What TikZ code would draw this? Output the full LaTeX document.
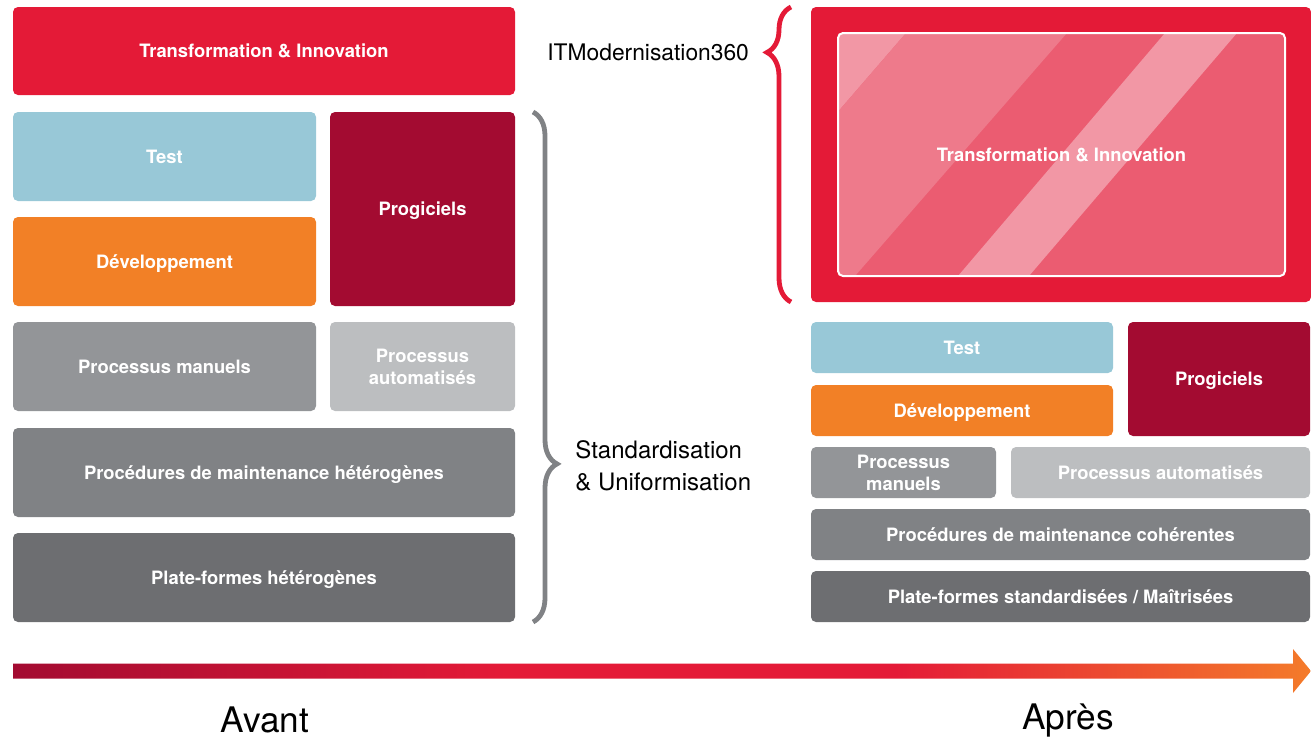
\documentclass[tikz,border=0pt]{standalone}
\usepackage{fontspec}
\setmainfont{TeX Gyre Heros}
\usepackage{tikz}
\usetikzlibrary{decorations.pathreplacing}

\definecolor{itred}{HTML}{E41A37}
\definecolor{itwine}{HTML}{A30B31}
\definecolor{itblue}{HTML}{98C8D7}
\definecolor{itorange}{HTML}{F28026}
\definecolor{itgrey}{HTML}{939598}
\definecolor{itlight}{HTML}{BCBEC0}
\definecolor{itmid}{HTML}{808285}
\definecolor{itdark}{HTML}{6D6E71}
\definecolor{itpink}{HTML}{EB5C71}
\definecolor{itrose}{HTML}{EE7A8B}
\definecolor{itpale}{HTML}{F297A5}
\definecolor{itarrow}{HTML}{F47B2A}

\pgfdeclarehorizontalshading{timeline}{100bp}{color(0bp)=(itwine); color(25bp)=(itwine); color(44bp)=(itred); color(59bp)=(itred); color(75bp)=(itarrow); color(100bp)=(itarrow)}

\newcommand{\lblfont}{\bfseries\fontsize{9.2}{11}\selectfont}
\newcommand{\sidefont}{\fontsize{11.4}{16}\selectfont}
\newcommand{\avfont}{\fontsize{17.6}{20}\selectfont}

\begin{document}
\begin{tikzpicture}[x=0.5pt,y=-0.5pt,
  tile/.style={rounded corners=2.5pt,inner sep=0pt,outer sep=0pt,text=white,align=center,font=\lblfont},
  blk/.style={tile,text height=6.6pt,text depth=0pt},
  lrow/.style={minimum height=44.5pt},
  rrow/.style={minimum height=25.5pt},
  accolade/.style={line width=2.4pt,decorate}]
  \useasboundingbox (0,0) rectangle (1311,744);

  \node[blk,fill=itred,minimum width=251pt,minimum height=44pt] (tiL) at (264,51) {Transformation \& Innovation};
  \node[blk,lrow,fill=itblue,minimum width=151.5pt] (testL) at (164.5,156.5) {Test};
  \node[blk,lrow,fill=itorange,minimum width=151.5pt] (devL) at (164.5,261.5) {Développement};
  \node[blk,fill=itwine,minimum width=92.5pt,minimum height=97pt] (progL) at (422.5,209) {Progiciels};
  \node[blk,lrow,fill=itgrey,minimum width=151.5pt] (manL) at (164.5,366.5) {Processus manuels};
  \node[tile,lrow,fill=itlight,minimum width=92.5pt] (autoL) at (422.5,366.5) {Processus\\automatisés};
  \node[blk,lrow,fill=itmid,minimum width=251pt] (maintL) at (264,472.5) {Procédures de maintenance hétérogènes};
  \node[blk,lrow,fill=itdark,minimum width=251pt] (platL) at (264,577.5) {Plate-formes hétérogènes};

  \node[blk,fill=itred,minimum width=250pt,minimum height=147.5pt] (tiR) at (1061,154.5) {};
  \begin{scope}
    \clip[rounded corners=2.5pt] (838,33) rectangle (1285,276);
    \fill[itpink] (838,33) rectangle (1285,276);
    \fill[itpale] (600,33) -- (906,33) -- (696,276) -- (600,276) -- cycle;
    \fill[itrose] (906,33) -- (1067,33) -- (855,276) -- (696,276) -- cycle;
    \fill[itpale] (1165,33) -- (1237,33) -- (1029,276) -- (958,276) -- cycle;
  \end{scope}
  \node[blk,draw=white,line width=1pt,minimum width=223.5pt,minimum height=121.5pt] (inner) at (1061.5,154.5) {Transformation \& Innovation};

  \node[blk,rrow,fill=itblue,minimum width=151pt] (testR) at (962,347.5) {Test};
  \node[blk,rrow,fill=itorange,minimum width=151pt] (devR) at (962,410.5) {Développement};
  \node[blk,fill=itwine,minimum width=91pt,minimum height=57pt] (progR) at (1219,379) {Progiciels};
  \node[tile,rrow,fill=itgrey,minimum width=92.5pt] (manR) at (903.5,472.5) {Processus\\manuels};
  \node[blk,rrow,fill=itlight,minimum width=149.5pt] (autoR) at (1160.5,472.5) {Processus automatisés};
  \node[blk,rrow,fill=itmid,minimum width=249.5pt] (maintR) at (1060.5,534.5) {Procédures de maintenance cohérentes};
  \node[blk,rrow,fill=itdark,minimum width=249.5pt] (platR) at (1060.5,596.5) {Plate-formes standardisées / Maîtrisées};

  \draw[accolade,itmid,decoration={brace,amplitude=12pt,aspect=0.69}] ([xshift=9pt]progL.north east) -- ([xshift=9pt]platL.south east);
  \draw[accolade,itred,decoration={brace,amplitude=12pt,aspect=0.846}] ([xshift=-10pt]tiR.south west) -- ([xshift=-10pt]tiR.north west);
  \node[font=\sidefont,anchor=west,inner sep=0pt] (itm) at (547,52) {ITModernisation360};
  \node[font=\fontsize{12}{16}\selectfont,anchor=west,align=left,inner sep=0pt] (std) at (575,466) {Standardisation\\\& Uniformisation};

  \coordinate (tstart) at (13,671);
  \coordinate (tend) at (1311,671);
  \shade[shading=timeline] (13,663.5) -- (1293,663.5) -- (1293,649) -- (tend) -- (1293,693) -- (1293,678.5) -- (13,678.5) -- cycle;
  \node[font=\avfont] (avant) at (265,720) {Avant};
  \node[font=\avfont] (apres) at (1068,720) {Après};
\end{tikzpicture}
\end{document}
